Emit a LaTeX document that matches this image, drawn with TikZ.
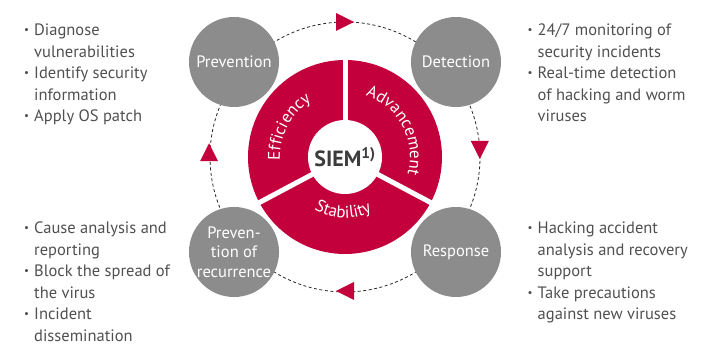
\documentclass[tikz,border=0pt]{standalone}
\usepackage{fontspec}
\setmainfont{PT Sans}
\usetikzlibrary{decorations.text}
\definecolor{siemred}{HTML}{C4003C}
\definecolor{stagegray}{HTML}{8C8C8C}
\definecolor{listgray}{HTML}{505050}
\definecolor{hubgray}{HTML}{3C3C3C}
\newcommand{\bul}{\makebox[10pt][l]{\raisebox{0.12em}{\fontsize{11}{11}\selectfont\textbullet}}}
\newcommand{\ind}{\hspace*{10pt}}
\tikzset{
  stage/.style={circle, fill=stagegray, minimum size=90pt, inner sep=0pt, align=center, text=white, font=\fontsize{16.5}{19.5}\selectfont},
  hub/.style={circle, fill=white, minimum size=74pt, inner sep=0pt, text=hubgray, font=\fontsize{22}{24}\selectfont\bfseries},
  items/.style={anchor=north west, inner sep=0pt, align=left, text=listgray, font=\fontsize{16.5}{21.5}\selectfont},
  cyclepath/.style={dash pattern=on 3pt off 2.5pt, line width=0.8pt, black!85},
  sectorgap/.style={white, line width=5pt},
  ringlabel/.style={decorate, decoration={text along path, text align=center, text={|\fontsize{17}{17}\selectfont\color{white}|#1}}},
  cycletip/.pic={\fill[siemred] (9,0) -- (-9,9) -- (-9,-9) -- cycle;},
}

\begin{document}
\begin{tikzpicture}[x=1pt, y=1pt]
\useasboundingbox (0,0) rectangle (712,344);
\coordinate (ringc) at (345,187);

% dashed cycle with its tips
\draw[cyclepath] (ringc) circle[radius=135];
\pic at ([shift={(90:135)}]ringc) {cycletip};
\pic[rotate=-90] at ([shift={(3:135)}]ringc) {cycletip};
\pic[rotate=180] at ([shift={(270:134)}]ringc) {cycletip};
\pic[rotate=90] at ([shift={(178:136)}]ringc) {cycletip};

% stages
\node[stage] (prevent) at (234,282) {Prevention};
\node[stage] (detect) at (456,282) {Detection};
\node[stage] (respond) at (456,92) {Response};
\node[stage] (recur) at (234,92) {Preven-\\tion of\\recurrence};

% SIEM ring
\fill[siemred] (ringc) circle[radius=97];
\foreach \a in {90,208,332}
  \draw[sectorgap] (ringc) -- ++(\a:100);
\node[hub] (siem) at (ringc) {SIEM\textsuperscript{1)}};

\path[ringlabel=Efficiency] ([shift={(205:65)}]ringc) arc[start angle=205, end angle=99, radius=65];
\path[ringlabel=Advancement] ([shift={(85:65)}]ringc) arc[start angle=85, end angle=-29, radius=65];
\path[ringlabel=Stability] ([shift={(215:61)}]ringc) arc[start angle=215, end angle=321, radius=61];

% lists
\node[items] (preventlist) at (24,320) {\bul Diagnose\\\ind vulnerabilities\\\bul Identify security\\\ind information\\\bul Apply OS patch};
\node[items] (detectlist) at (527.5,320) {\bul 24/7 monitoring of\\\ind security incidents\\\bul Real-time detection\\\ind of hacking and worm\\\ind viruses};
\node[items] (recurlist) at (24,122) {\bul Cause analysis and\\\ind reporting\\\bul Block the spread of\\\ind the virus\\\bul Incident\\\ind dissemination};
\node[items] (respondlist) at (527.5,122) {\bul Hacking accident\\\ind analysis and recovery\\\ind support\\\bul Take precautions\\\ind against new viruses};
\end{tikzpicture}
\end{document}
